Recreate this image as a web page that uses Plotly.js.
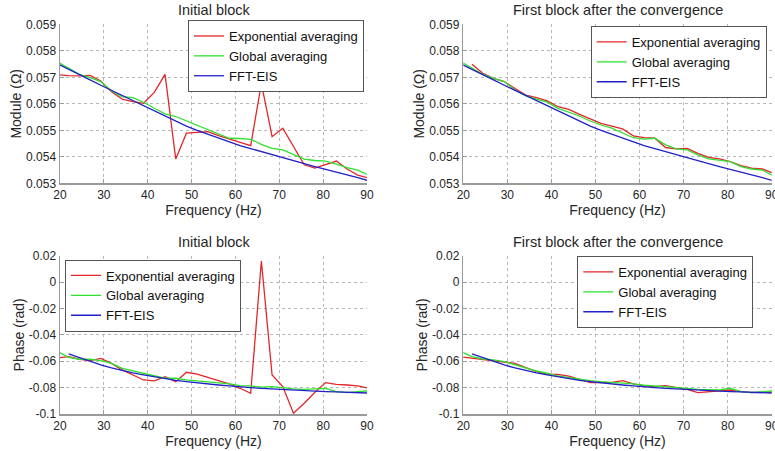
<!DOCTYPE html>
<html>
<head>
<meta charset="utf-8">
<script src="https://cdn.plot.ly/plotly-3.0.1.min.js"></script>
<style>html,body{margin:0;padding:0;background:#fff;}#chart{width:775px;height:451px;}</style>
</head>
<body>
<div id="chart"></div>
<script>
// Frequency bins (Hz)
const freq = [19.53, 21.97, 24.41, 26.86, 29.30, 31.74, 34.18, 36.62, 39.06, 41.50, 43.95, 46.39, 48.83, 51.27, 53.71, 56.15, 58.59, 61.04, 63.48, 65.92, 68.36, 70.80, 73.24, 75.68, 78.13, 80.57, 83.01, 85.45, 87.89, 90.33];

// Module, initial block
const modExpInit = [0.05710, 0.05706, 0.05705, 0.05707, 0.05686, 0.05645, 0.05618, 0.05608, 0.05602, 0.05643, 0.05711, 0.05392, 0.05489, 0.05492, 0.05495, 0.05480, 0.05467, 0.05455, 0.05442, 0.05677, 0.05476, 0.05508, 0.05440, 0.05370, 0.05357, 0.05370, 0.05384, 0.05354, 0.05331, 0.05320];
const modGlobInit = [0.05758, 0.05734, 0.05711, 0.05699, 0.05684, 0.05648, 0.05627, 0.05623, 0.05606, 0.05583, 0.05562, 0.05552, 0.05535, 0.05520, 0.05504, 0.05485, 0.05470, 0.05469, 0.05466, 0.05447, 0.05432, 0.05426, 0.05407, 0.05391, 0.05386, 0.05384, 0.05372, 0.05359, 0.05350, 0.05331];
const modFFT = [0.05750, 0.05729, 0.05709, 0.05690, 0.05670, 0.05651, 0.05631, 0.05611, 0.05591, 0.05572, 0.05554, 0.05535, 0.05516, 0.05500, 0.05485, 0.05470, 0.05455, 0.05442, 0.05431, 0.05419, 0.05408, 0.05397, 0.05386, 0.05374, 0.05363, 0.05353, 0.05342, 0.05331, 0.05321, 0.05310];

// Module, first block after convergence
const modExpConv = [null, 0.05749, 0.05715, 0.05696, 0.05684, 0.05658, 0.05633, 0.05623, 0.05611, 0.05589, 0.05579, 0.05560, 0.05542, 0.05526, 0.05516, 0.05505, 0.05479, 0.05472, 0.05470, 0.05435, 0.05430, 0.05432, 0.05413, 0.05398, 0.05392, 0.05382, 0.05367, 0.05357, 0.05354, 0.05338];
const modGlobConv = [0.05758, 0.05734, 0.05711, 0.05696, 0.05684, 0.05652, 0.05630, 0.05618, 0.05606, 0.05583, 0.05567, 0.05554, 0.05535, 0.05520, 0.05508, 0.05489, 0.05472, 0.05467, 0.05470, 0.05445, 0.05430, 0.05426, 0.05407, 0.05392, 0.05386, 0.05382, 0.05363, 0.05354, 0.05350, 0.05328];

// Phase, initial block
const phExpInit = [-0.0575, -0.0565, -0.0585, -0.0595, -0.0578, -0.0616, -0.0666, -0.0704, -0.0742, -0.0749, -0.0717, -0.0755, -0.0684, -0.0697, -0.0722, -0.0747, -0.0772, -0.0805, -0.0843, 0.0160, -0.0704, -0.0792, -0.0994, -0.0919, -0.0835, -0.0762, -0.0775, -0.0780, -0.0787, -0.0805];
const phGlobInit = [-0.0527, -0.0570, -0.0585, -0.0585, -0.0595, -0.0616, -0.0654, -0.0674, -0.0691, -0.0712, -0.0729, -0.0729, -0.0742, -0.0749, -0.0755, -0.0762, -0.0772, -0.0785, -0.0787, -0.0797, -0.0792, -0.0800, -0.0810, -0.0813, -0.0810, -0.0805, -0.0830, -0.0838, -0.0830, -0.0825];
const phFFT = [null, -0.0545, -0.0573, -0.0601, -0.0628, -0.0651, -0.0671, -0.0689, -0.0704, -0.0719, -0.0732, -0.0745, -0.0755, -0.0765, -0.0772, -0.0780, -0.0787, -0.0795, -0.0800, -0.0805, -0.0810, -0.0815, -0.0820, -0.0823, -0.0828, -0.0830, -0.0833, -0.0835, -0.0838, -0.0841];

// Phase, first block after convergence
const phExpConv = [-0.0568, -0.0578, -0.0590, -0.0598, -0.0608, -0.0616, -0.0649, -0.0679, -0.0697, -0.0699, -0.0712, -0.0737, -0.0762, -0.0762, -0.0760, -0.0747, -0.0772, -0.0787, -0.0792, -0.0785, -0.0797, -0.0813, -0.0838, -0.0830, -0.0823, -0.0818, -0.0830, -0.0838, -0.0835, -0.0833];
const phGlobConv = [-0.0527, -0.0565, -0.0583, -0.0590, -0.0603, -0.0628, -0.0654, -0.0674, -0.0691, -0.0712, -0.0724, -0.0737, -0.0747, -0.0755, -0.0760, -0.0767, -0.0772, -0.0782, -0.0787, -0.0792, -0.0797, -0.0805, -0.0813, -0.0813, -0.0818, -0.0805, -0.0830, -0.0838, -0.0830, -0.0825];

// Tick labels
const xTickVals = [20, 30, 40, 50, 60, 70, 80, 90];
const xTickText = ['20', '30', '40', '50', '60', '70', '80', '90'];
const modTickVals = [0.053, 0.054, 0.055, 0.056, 0.057, 0.058, 0.059];
const modTickText = ['0.053', '0.054', '0.055', '0.056', '0.057', '0.058', '0.059'];
const phTickVals = [-0.1, -0.08, -0.06, -0.04, -0.02, 0, 0.02];
const phTickText = ['-0.1', '-0.08', '-0.06', '-0.04', '-0.02', '0', '0.02'];

const seriesNames = ['Exponential averaging', 'Global averaging', 'FFT-EIS'];
const colors = ['#e3262b', '#2fe02f', '#2121c8'];

function tr(y, k, xa, ya, lg) {
  return {x: freq, y: y, type: 'scatter', mode: 'lines', name: seriesNames[k],
    xaxis: xa, yaxis: ya, legend: lg, connectgaps: false,
    line: {color: colors[k], width: 1.3}};
}

const data = [
  tr(modExpInit, 0, 'x', 'y', 'legend'), tr(modGlobInit, 1, 'x', 'y', 'legend'), tr(modFFT, 2, 'x', 'y', 'legend'),
  tr(modExpConv, 0, 'x2', 'y2', 'legend2'), tr(modGlobConv, 1, 'x2', 'y2', 'legend2'), tr(modFFT, 2, 'x2', 'y2', 'legend2'),
  tr(phExpInit, 0, 'x3', 'y3', 'legend3'), tr(phGlobInit, 1, 'x3', 'y3', 'legend3'), tr(phFFT, 2, 'x3', 'y3', 'legend3'),
  tr(phExpConv, 0, 'x4', 'y4', 'legend4'), tr(phGlobConv, 1, 'x4', 'y4', 'legend4'), tr(phFFT, 2, 'x4', 'y4', 'legend4')
];

const FONT = '"Liberation Sans", Arial, sans-serif';
const axisColor = '#9a9a9a';
const textColor = '#262626';

function xax(dom, anchor) {
  return {domain: dom, anchor: anchor, range: [20, 90], tickvals: xTickVals, ticktext: xTickText,
    showline: true, linecolor: axisColor, linewidth: 1.5, mirror: false,
    ticks: 'inside', ticklen: 4, tickcolor: axisColor, showgrid: true, gridcolor: '#b8b8b8',
    griddash: 'dot', gridwidth: 1, zeroline: false, tickfont: {size: 12, color: textColor, family: FONT},
    ticklabeloverflow: 'allow',
    title: {text: 'Frequency (Hz)', font: {size: 14, color: textColor, family: FONT}, standoff: 1},
    automargin: false};
}
function yax(dom, anchor, vals, text, title) {
  return {domain: dom, anchor: anchor, range: [vals[0], vals[vals.length - 1]], tickvals: vals, ticktext: text,
    showline: true, linecolor: axisColor, linewidth: 1.5, mirror: false,
    ticks: 'inside', ticklen: 4, tickcolor: axisColor, showgrid: true, gridcolor: '#b8b8b8',
    griddash: 'dot', gridwidth: 1, zeroline: false, tickfont: {size: 12, color: textColor, family: FONT},
    ticklabeloverflow: 'allow',
    title: {text: title, font: {size: 14, color: textColor, family: FONT}, standoff: 1},
    automargin: false};
}

const xL = [60 / 775, 367 / 775], xR = [463.3 / 775, 771.7 / 775];
const yT = [1 - 183.3 / 451, 1 - 24.3 / 451], yB = [1 - 414 / 451, 1 - 255.7 / 451];

function lg(x, y, xanchor) {
  return {x: x, y: y, xanchor: xanchor, yanchor: 'top', xref: 'paper', yref: 'paper',
    bgcolor: '#ffffff', bordercolor: '#555555', borderwidth: 1,
    font: {size: 13, color: '#111', family: FONT}, tracegroupgap: 0, itemwidth: 30};
}

const titleFont = {size: 14.5, color: textColor, family: FONT};
const layout = {
  width: 775, height: 451, margin: {l: 0, r: 0, t: 0, b: 0},
  paper_bgcolor: '#ffffff', plot_bgcolor: '#ffffff', showlegend: true,
  font: {family: FONT, color: textColor},
  xaxis: xax(xL, 'y'), yaxis: yax(yT, 'x', modTickVals, modTickText, 'Module (Ω)'),
  xaxis2: xax(xR, 'y2'), yaxis2: yax(yT, 'x2', modTickVals, modTickText, 'Module (Ω)'),
  xaxis3: xax(xL, 'y3'), yaxis3: yax(yB, 'x3', phTickVals, phTickText, 'Phase (rad)'),
  xaxis4: xax(xR, 'y4'), yaxis4: yax(yB, 'x4', phTickVals, phTickText, 'Phase (rad)'),
  legend: lg(364 / 775, 1 - 20 / 451, 'right'),
  legend2: lg(766.7 / 775, 1 - 26 / 451, 'right'),
  legend3: lg(65 / 775, 1 - 259.5 / 451, 'left'),
  legend4: lg(753.3 / 775, 1 - 256 / 451, 'right'),
  annotations: [
    {text: 'Initial block', x: (xL[0] + xL[1]) / 2, y: 1 - 10 / 451, xref: 'paper', yref: 'paper', showarrow: false, xanchor: 'center', yanchor: 'middle', font: titleFont},
    {text: 'First block after the convergence', x: (xR[0] + xR[1]) / 2, y: 1 - 10 / 451, xref: 'paper', yref: 'paper', showarrow: false, xanchor: 'center', yanchor: 'middle', font: titleFont},
    {text: 'Initial block', x: (xL[0] + xL[1]) / 2, y: 1 - 241.5 / 451, xref: 'paper', yref: 'paper', showarrow: false, xanchor: 'center', yanchor: 'middle', font: titleFont},
    {text: 'First block after the convergence', x: (xR[0] + xR[1]) / 2, y: 1 - 241.5 / 451, xref: 'paper', yref: 'paper', showarrow: false, xanchor: 'center', yanchor: 'middle', font: titleFont}
  ]
};

Plotly.newPlot('chart', data, layout, {displayModeBar: false, staticPlot: true});
</script>
</body>
</html>
